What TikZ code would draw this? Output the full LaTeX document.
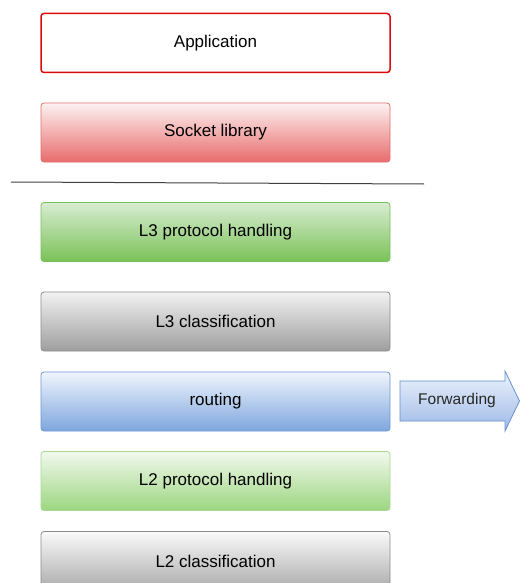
\documentclass[tikz,border=0pt]{standalone}
\usepackage{fontspec}
\setmainfont{Liberation Sans}
\begin{document}
\begin{tikzpicture}[x=1pt,y=-1pt,
  layer/.style={rounded corners=3pt, minimum width=349pt, minimum height=59pt, inner sep=0pt,
    font=\fontsize{17pt}{20pt}\selectfont, text=black, line width=0.8pt},
  appbox/.style={layer, draw={rgb,255:red,220;green,10;blue,10}, fill=white, line width=1.5pt},
  redbox/.style={layer, draw={rgb,255:red,225;green,110;blue,110}, top color={rgb,255:red,253;green,242;blue,242}, bottom color={rgb,255:red,232;green,108;blue,108}},
  greenbox/.style={layer, draw={rgb,255:red,120;green,190;blue,90}, top color={rgb,255:red,216;green,236;blue,210}, bottom color={rgb,255:red,122;green,194;blue,88}},
  graybox/.style={layer, draw={rgb,255:red,140;green,140;blue,140}, top color={rgb,255:red,242;green,242;blue,242}, bottom color={rgb,255:red,158;green,158;blue,158}},
  bluebox/.style={layer, draw={rgb,255:red,110;green,150;blue,210}, top color={rgb,255:red,240;green,245;blue,252}, bottom color={rgb,255:red,126;green,166;blue,222}},
  lgreenbox/.style={layer, draw={rgb,255:red,170;green,215;blue,150}, top color={rgb,255:red,242;green,249;blue,238}, bottom color={rgb,255:red,156;green,214;blue,128}},
  lgraybox/.style={layer, draw={rgb,255:red,140;green,140;blue,140}, top color={rgb,255:red,250;green,250;blue,250}, bottom color={rgb,255:red,170;green,170;blue,170}},
  fwdarrow/.style={draw={rgb,255:red,100;green,145;blue,210}, line width=0.8pt, top color={rgb,255:red,236;green,242;blue,251}, bottom color={rgb,255:red,158;green,186;blue,232}},
  fwdtext/.style={font=\fontsize{15.5pt}{18pt}\selectfont, text=black!85, inner sep=0pt}
]
\useasboundingbox (0,0) rectangle (520,583);
\clip (0,0) rectangle (520,583);

\node[appbox] (app) at (215.5,43) {\raisebox{-1.5pt}{Application}};
\node[redbox] (sock) at (215.5,132.5) {\raisebox{-1.5pt}{Socket library}};
\coordinate (l1) at (11,182);
\coordinate (l2) at (424,184);
\draw[line width=1pt, black!75] (l1) -- (l2);
\node[greenbox] (l3p) at (215.5,232) {\raisebox{-1.5pt}{L3 protocol handling}};
\node[graybox] (l3c) at (215.5,321.5) {\raisebox{-1.5pt}{L3 classification}};
\node[bluebox] (rt) at (215.5,401.5) {\raisebox{-1.5pt}{routing}};
\node[lgreenbox] (l2p) at (215.5,481) {\raisebox{-1.5pt}{L2 protocol handling}};
\node[lgraybox] (l2c) at (215.5,561) {\raisebox{-1.5pt}{L2 classification}};

\path[fwdarrow] (400,381) -- (505,381) -- (505,371) -- (519.5,401) -- (505,431) -- (505,421) -- (400,421) -- cycle;
\node[fwdtext] (fwd) at (457,400) {Forwarding};
\end{tikzpicture}
\end{document}
